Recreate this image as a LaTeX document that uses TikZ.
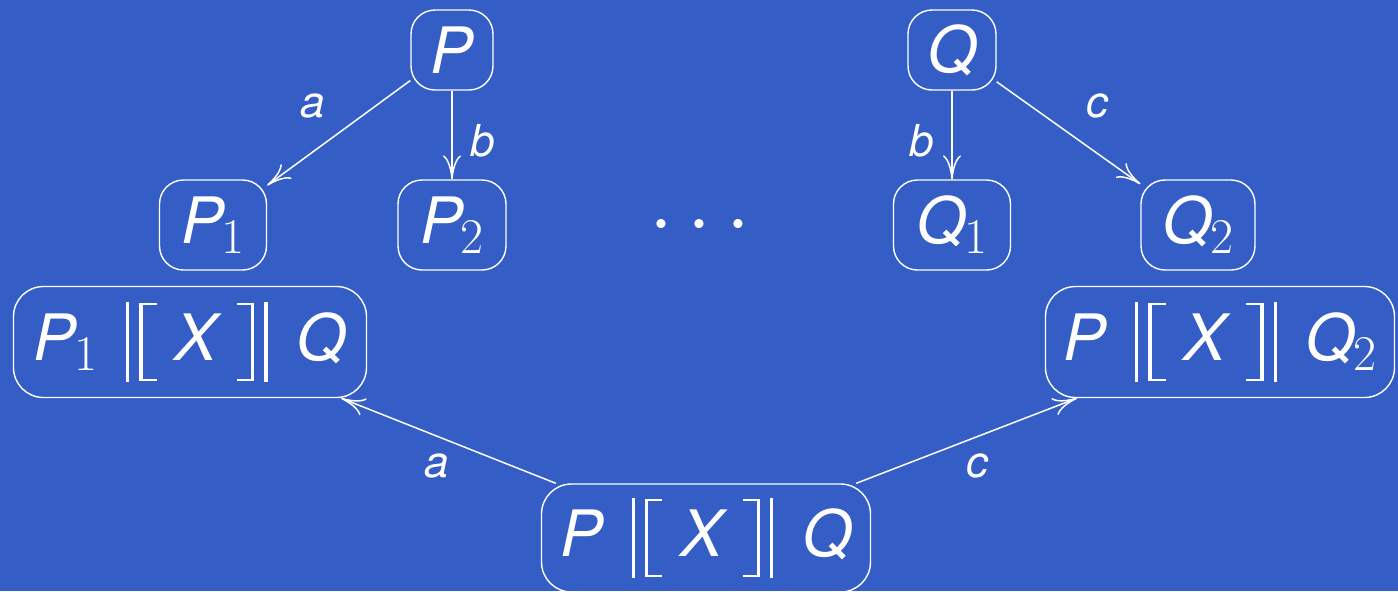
\RequirePackage{fix-cm}
\documentclass[tikz,border=0pt]{standalone}
\usepackage[no-math]{fontspec}
\newfontfamily\hv{TeX Gyre Heros}
\usetikzlibrary{arrows.meta,calc}
\definecolor{bg}{RGB}{52,93,197}
\newcommand\V[1]{{\hv\itshape #1}}
\newcommand\Sb[1]{\kern-1pt\raisebox{-5pt}{\fontsize{25}{28}\selectfont #1}}
\newcommand\vbar{\rule[-11pt]{1.6pt}{40pt}}
\newcommand\lbrk{\rule[-10.5pt]{1.6pt}{39pt}\rule[-10.5pt]{7pt}{1pt}\llap{\rule[27.5pt]{7pt}{1pt}}}
\newcommand\rbrk{\rlap{\rule[27.5pt]{7pt}{1pt}}\rule[-10.5pt]{7pt}{1pt}\rule[-10.5pt]{1.6pt}{39pt}}
\newcommand\Par[2]{#1\hspace{14.5pt}\vbar\hspace{5pt}\lbrk\hspace{9pt}\V{X}\hspace{10pt}\rbrk\hspace{5pt}\vbar\hspace{14.5pt}#2}
\begin{document}
\begin{tikzpicture}[x=0.5pt,y=-0.5pt,
  every node/.style={text=white,font=\fontsize{32}{38}\selectfont},
  st/.style={draw=white,line width=0.7pt,rounded corners=12pt,inner sep=0pt},
  big/.style={st,rounded corners=15pt},
  lbl/.style={text=white,font=\fontsize{22}{26}\selectfont\hv\itshape,inner sep=0pt},
  tr/.style={draw=white,line width=0.75pt,-{To[length=12pt,width=9pt]}}]
\fill[bg] (0,0) rectangle (1398,591);
\useasboundingbox (0,0) rectangle (1398,591);
\node[st,minimum width=41pt,minimum height=40pt] (P) at (452,50) {\V{P}};
\node[st,minimum width=44pt,minimum height=40pt] (Q) at (952,50) {\V{Q}};
\node[st,minimum width=53.5pt,minimum height=45pt] (P1) at (213,225) {\V{P}\Sb{1}};
\node[st,minimum width=54pt,minimum height=45pt] (P2) at (452,225) {\V{P}\Sb{2}};
\node[st,minimum width=58.5pt,minimum height=45pt] (Q1) at (952,225) {\V{Q}\Sb{1}};
\node[st,minimum width=57pt,minimum height=45pt] (Q2) at (1198,225) {\V{Q}\Sb{2}};
\node[font=\fontsize{43}{48}\selectfont] (dots) at (700,226) {$\cdots$};
\node[big,minimum width=176.5pt,minimum height=55.5pt] (L) at (190,342) {\Par{\V{P}\Sb{1}}{\V{Q}}};
\node[big,minimum width=174.5pt,minimum height=55.5pt] (R) at (1220,342) {\Par{\V{P}}{\V{Q}\Sb{2}}};
\node[big,minimum width=164.5pt,minimum height=54pt] (B) at (706,538) {\Par{\V{P}}{\V{Q}}};
\coordinate (b1) at ($(B.north west)+(15,0)$);
\coordinate (b2) at ($(B.north east)+(-15,0)$);
\coordinate (l1) at ($(L.south east)+(-26,0)$);
\coordinate (r1) at ($(R.south west)+(32,0)$);
\draw[tr] (P) -- (P1);
\draw[tr] (P) -- (P2);
\draw[tr] (Q) -- (Q1);
\draw[tr] (Q) -- (Q2);
\draw[tr] (b1) -- (l1);
\draw[tr] (b2) -- (r1);
\node[lbl] (la) at (313,106) {a};
\node[lbl] (lb) at (483,141) {b};
\node[lbl] (lb2) at (922,141) {b};
\node[lbl] (lc) at (1097,106) {c};
\node[lbl] (la2) at (437,466) {a};
\node[lbl] (lc2) at (977,466) {c};
\end{tikzpicture}
\end{document}
